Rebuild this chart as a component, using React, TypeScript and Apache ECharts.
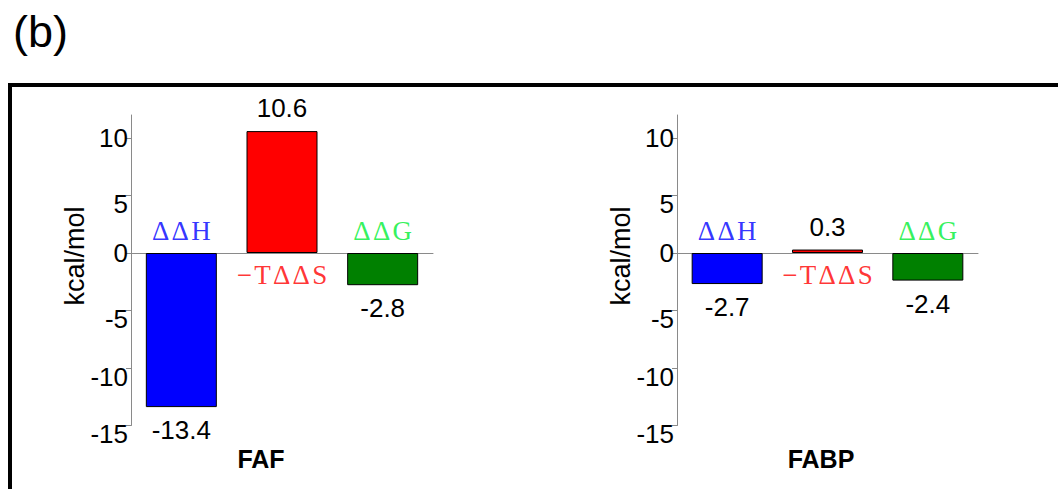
import React, { useEffect, useRef } from "react";
import * as echarts from "echarts";

// Thermodynamic terms shown in each panel, in bar order
const terms = ["ΔΔH", "−TΔΔS", "ΔΔG"];
// kcal/mol values per panel
const fafValues = [-13.4, 10.6, -2.8];
const fabpValues = [-2.7, 0.3, -2.4];
const panelNames = ["FAF", "FABP"];
const yTicks = [-15, -10, -5, 0, 5, 10];
const yMin = -15;
const yMax = 12;
const yAxisTitle = "kcal/mol";
const panelTag = "(b)";

const barColors = ["#0000ff", "#ff0000", "#008000"];
const termColors = ["#0000ff", "#ff0000", "#00ee33"];

const SANS = "'Liberation Sans', Arial, sans-serif";
const SERIF = "'Liberation Serif', 'Times New Roman', serif";

// letter-spaced rendering of the term symbols
const spaced = (s: string) => Array.from(s).join("\u200A");

const panels = [
  { left: 131, width: 302, values: fafValues, nameX: 261, titleX: 75 },
  { left: 677, width: 301, values: fabpValues, nameX: 821, titleX: 621 },
];

export default function App() {
  const ref = useRef<HTMLDivElement>(null);

  useEffect(() => {
    if (!ref.current) return;
    const chart = echarts.init(ref.current, undefined, { renderer: "svg" });

    const grid = panels.map((p) => ({
      left: p.left,
      top: 115,
      width: p.width,
      height: 310.5,
      containLabel: false,
    }));

    const xAxis = panels.map((_, i) => ({
      type: "category" as const,
      gridIndex: i,
      data: terms,
      boundaryGap: true,
      axisLine: { onZero: true, lineStyle: { color: "#8a8a8a", width: 1 } },
      axisTick: { show: false },
      axisLabel: { show: false },
      splitLine: { show: false },
    }));

    const yAxis = panels.map((_, i) => ({
      type: "value" as const,
      gridIndex: i,
      min: yMin,
      max: yMax,
      axisLine: { show: true, onZero: false, lineStyle: { color: "#8a8a8a", width: 1 } },
      axisTick: {
        show: true,
        length: 5,
        customValues: yTicks,
        lineStyle: { color: "#8a8a8a" },
      },
      axisLabel: {
        customValues: yTicks,
        margin: 3,
        color: "#000",
        fontFamily: SANS,
        fontSize: 26,
        // the zero and top labels sit level with their ticks, the others hang a little lower
        formatter: (v: number) => (v === 0 || v === 10 ? `{lv|${v}}` : `{lo|${v}}`),
        rich: {
          lv: { fontFamily: SANS, fontSize: 26, color: "#000" },
          lo: { fontFamily: SANS, fontSize: 26, color: "#000", padding: [17, 0, 0, 0] },
        },
      },
      splitLine: { show: false },
    }));

    const barSeries = panels.map((p, i) => ({
      type: "bar" as const,
      xAxisIndex: i,
      yAxisIndex: i,
      barWidth: 71,
      data: p.values.map((v, k) => ({
        value: v,
        itemStyle: { color: barColors[k], borderColor: "#000", borderWidth: 1 },
        label: { position: v < 0 ? "bottom" : "top" },
      })),
      label: {
        show: true,
        distance: 10,
        color: "#000",
        fontFamily: SANS,
        fontSize: 26,
        formatter: (prm: any) => String(prm.value),
      },
    }));

    // term names sit on the opposite side of the zero line from their bar
    const termSeries = panels.map((p, i) => ({
      type: "scatter" as const,
      xAxisIndex: i,
      yAxisIndex: i,
      symbolSize: 1,
      silent: true,
      itemStyle: { color: "transparent" },
      clip: false,
      z: 5,
      data: p.values.map((v, k) => ({
        value: [k, 0],
        label: {
          position: v < 0 ? "top" : "bottom",
          color: termColors[k],
        },
      })),
      label: {
        show: true,
        distance: 8,
        fontFamily: SERIF,
        fontSize: 27,
        formatter: (prm: any) => spaced(terms[prm.dataIndex]),
      },
    }));

    const graphic: any[] = [
      {
        type: "rect",
        shape: { x: 10, y: 85, width: 1200, height: 600 },
        style: { fill: "none", stroke: "#000", lineWidth: 4 },
        silent: true,
      },
      {
        type: "text",
        x: 13,
        y: 31,
        style: {
          text: panelTag,
          fontFamily: SANS,
          fontSize: 45,
          fill: "#000",
          align: "left",
          verticalAlign: "middle",
        },
      },
    ];
    panels.forEach((p, i) => {
      graphic.push({
        type: "text",
        x: p.nameX,
        y: 459,
        style: {
          text: panelNames[i],
          fontFamily: SANS,
          fontWeight: "bold",
          fontSize: 25,
          fill: "#000",
          align: "center",
          verticalAlign: "middle",
        },
      });
      graphic.push({
        type: "text",
        x: p.titleX,
        y: 256,
        rotation: Math.PI / 2,
        style: {
          text: yAxisTitle,
          fontFamily: SANS,
          fontSize: 27,
          fill: "#000",
          align: "center",
          verticalAlign: "middle",
        },
      });
    });

    chart.setOption({
      animation: false,
      backgroundColor: "#fff",
      grid,
      xAxis,
      yAxis,
      series: [...barSeries, ...termSeries],
      graphic,
    });

    return () => chart.dispose();
  }, []);

  return (
    <div
      ref={ref}
      style={{ position: "absolute", left: 0, top: 0, width: 1058, height: 489 }}
    />
  );
}
